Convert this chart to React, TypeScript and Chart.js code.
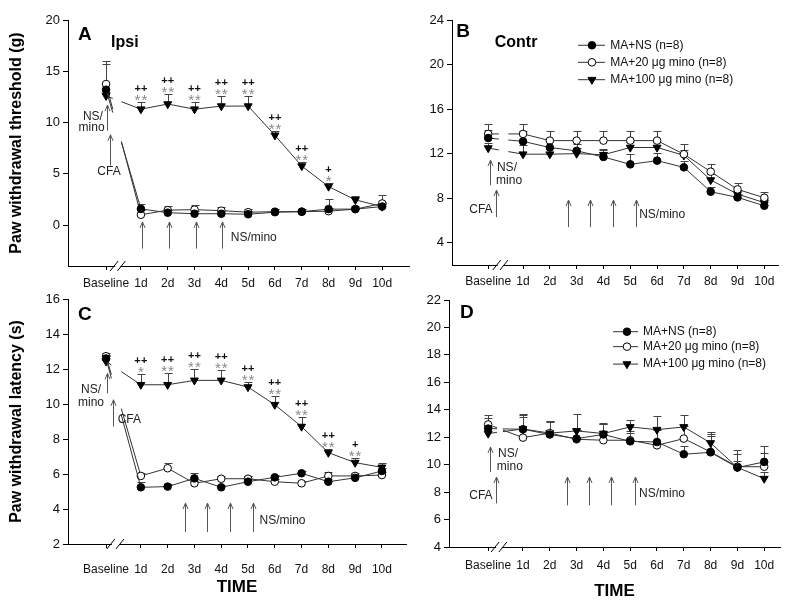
import React, { useEffect, useRef } from 'react';
import { Chart, registerables } from 'chart.js';

Chart.register(...registerables);

const FONT = '"Liberation Sans", Arial, Helvetica, sans-serif';

// ---------- shared categories ----------
const categories = ['Baseline', '1d', '2d', '3d', '4d', '5d', '6d', '7d', '8d', '9d', '10d'];
const xPositions = [-0.3, 1, 2, 3, 4, 5, 6, 7, 8, 9, 10];
const seriesNames = ['MA+NS (n=8)', 'MA+20 \u03bcg mino (n=8)', 'MA+100 \u03bcg mino (n=8)'];

// ---------- Panel A: ipsilateral paw withdrawal threshold (g) ----------
const aNS = [13.2, 1.57, 1.2, 1.1, 1.1, 1.05, 1.25, 1.3, 1.55, 1.55, 1.8];
const aNSErr = [2.5, 0.45, 0.3, 0.3, 0.3, 0.3, 0.3, 0.25, 0.95, 0.3, 0.4];
const aMino20 = [13.75, 1.0, 1.45, 1.5, 1.4, 1.25, 1.3, 1.3, 1.35, 1.55, 2.1];
const aMino20Err = [2.25, 0.5, 0.45, 0.5, 0.4, 0.3, 0.25, 0.25, 0.3, 0.25, 0.8];
const aMino100 = [12.6, 11.3, 11.8, 11.3, 11.6, 11.6, 8.75, 5.75, 3.75, 2.45, 1.8];
const aMino100Err = [0.4, 0.7, 1.0, 0.7, 1.0, 1.0, 0.45, 0.4, 0.3, 0.35, 0.3];
const aPlus = ['', '++', '++', '++', '++', '++', '++', '++', '+', '', ''];
const aStars = ['', '**', '**', '**', '**', '**', '**', '**', '*', '', ''];
const aYTicks = [0, 5, 10, 15, 20];

// ---------- Panel B: contralateral paw withdrawal threshold (g) ----------
const bNS = [13.4, 13.1, 12.55, 12.25, 11.7, 11.04, 11.37, 10.77, 8.58, 8.07, 7.32];
const bNSErr = [0.7, 0.9, 0.7, 0.6, 0.6, 0.9, 0.7, 0.6, 0.45, 0.3, 0.3];
const bMino20 = [13.77, 13.77, 13.17, 13.17, 13.17, 13.17, 13.17, 11.95, 10.38, 8.79, 8.04];
const bMino20Err = [0.85, 0.85, 0.85, 0.85, 0.85, 0.85, 0.85, 0.9, 0.7, 0.55, 0.55];
const bMino100 = [12.5, 11.95, 11.95, 12.0, 11.9, 12.55, 12.55, 11.85, 9.63, 8.37, 7.59];
const bMino100Err = [0.5, 0.8, 0.6, 0.5, 0.5, 0.5, 0.5, 0.5, 0.5, 0.35, 0.3];
const bYTicks = [4, 8, 12, 16, 20, 24];

// ---------- Panel C: ipsilateral paw withdrawal latency (s) ----------
const cNS = [12.6, 5.24, 5.28, 5.75, 5.24, 5.56, 5.81, 6.04, 5.56, 5.78, 6.17];
const cNSErr = [0.2, 0.3, 0.15, 0.3, 0.15, 0.3, 0.15, 0.15, 0.15, 0.15, 0.15];
const cMino20 = [12.73, 5.89, 6.33, 5.47, 5.73, 5.73, 5.56, 5.47, 5.89, 5.89, 5.94];
const cMino20Err = [0.17, 0.15, 0.3, 0.15, 0.17, 0.15, 0.15, 0.15, 0.25, 0.15, 0.15];
const cMino100 = [12.44, 11.1, 11.1, 11.35, 11.35, 10.97, 9.96, 8.71, 7.22, 6.65, 6.38];
const cMino100Err = [0.3, 0.6, 0.67, 0.65, 0.57, 0.27, 0.51, 0.54, 0.2, 0.25, 0.27];
const cPlus = ['', '++', '++', '++', '++', '++', '++', '++', '++', '+', ''];
const cStars = ['', '*', '**', '**', '**', '**', '**', '**', '**', '**', ''];
const cYTicks = [2, 4, 6, 8, 10, 12, 14, 16];

// ---------- Panel D: contralateral paw withdrawal latency (s) ----------
const dNS = [12.63, 12.58, 12.2, 11.9, 12.2, 11.7, 11.65, 10.76, 10.9, 9.79, 10.2];
const dNSErr = [0.8, 1.1, 0.9, 0.6, 0.8, 0.6, 0.9, 0.6, 1.2, 1.0, 1.15];
const dMino20 = [12.93, 11.97, 12.3, 11.85, 11.78, 11.78, 11.41, 11.9, 10.93, 9.85, 9.85];
const dMino20Err = [0.67, 1.5, 0.9, 0.7, 1.2, 0.7, 1.2, 0.9, 1.3, 1.2, 1.0];
const dMino100 = [12.27, 12.6, 12.3, 12.46, 12.27, 12.75, 12.55, 12.75, 11.58, 9.8, 8.98];
const dMino100Err = [0.5, 1.0, 0.9, 1.2, 0.77, 0.54, 1.0, 0.89, 0.82, 0.5, 0.5];
const dYTicks = [4, 6, 8, 10, 12, 14, 16, 18, 20, 22];

type TextItem = { t: string; x: number; y: number; size: number; bold?: boolean; align?: CanvasTextAlign };
type Arrow = { x: number; y0: number; y1: number };
type Panel = {
  series: { values: number[]; err: number[] }[];
  plus?: string[];
  stars?: string[];
  xMin: number; xMax: number; yMin: number; yMax: number; yTicks: number[];
  padding: { left: number; top: number; right: number; bottom: number };
  yAxisWidth: number; xAxisHeight: number; xLabelPad: number;
  yTitle?: string; xTitle?: string; xTitlePad?: number;
  texts: TextItem[];
  arrows: Arrow[];
  breaks: number[];
  gap: [number, number];
  legend?: { x0: number; xm: number; x1: number; xt: number; ys: number[] };
};

const panels: Panel[] = [
  {
    series: [
      { values: aNS, err: aNSErr },
      { values: aMino20, err: aMino20Err },
      { values: aMino100, err: aMino100Err },
    ],
    plus: aPlus, stars: aStars,
    xMin: -1.72, xMax: 11, yMin: -4, yMax: 20, yTicks: aYTicks,
    padding: { left: 0, top: 20, right: 390, bottom: 315 },
    yAxisWidth: 68, xAxisHeight: 24, xLabelPad: 6,
    yTitle: 'Paw withdrawal threshold (g)',
    texts: [
      { t: 'A', x: -1.09, y: 18.6, size: 19, bold: true },
      { t: 'Ipsi', x: 0.4, y: 17.8, size: 16, bold: true },
      { t: 'NS/', x: -0.79, y: 10.6, size: 12 },
      { t: 'mino', x: -0.84, y: 9.5, size: 12 },
      { t: 'CFA', x: -0.19, y: 5.2, size: 12 },
      { t: 'NS/mino', x: 4.35, y: -1.25, size: 12, align: 'left' },
    ],
    arrows: [
      { x: -0.28, y0: 9.2, y1: 11.7 },
      { x: -0.15, y0: 5.8, y1: 8.8 },
      { x: 1.04, y0: -2.3, y1: 0.3 },
      { x: 2.04, y0: -2.3, y1: 0.3 },
      { x: 3.05, y0: -2.3, y1: 0.3 },
      { x: 4.02, y0: -2.3, y1: 0.3 },
    ],
    breaks: [0.0, 0.27],
    gap: [-0.05, 0.27],
  },
  {
    series: [
      { values: bNS, err: bNSErr },
      { values: bMino20, err: bMino20Err },
      { values: bMino100, err: bMino100Err },
    ],
    xMin: -1.65, xMax: 10.51, yMin: 2, yMax: 24, yTicks: bYTicks,
    padding: { left: 400, top: 20, right: 21, bottom: 315 },
    yAxisWidth: 52, xAxisHeight: 25, xLabelPad: 5,
    texts: [
      { t: 'B', x: -1.24, y: 22.96, size: 19, bold: true },
      { t: 'Contr', x: 0.74, y: 21.95, size: 16, bold: true },
      { t: 'NS/', x: 0.4, y: 10.7, size: 12 },
      { t: 'mino', x: 0.48, y: 9.54, size: 12 },
      { t: 'CFA', x: -0.57, y: 6.93, size: 12 },
      { t: 'NS/mino', x: 5.33, y: 6.48, size: 12, align: 'left' },
    ],
    arrows: [
      { x: -0.24, y0: 9.17, y1: 11.42 },
      { x: 0.0, y0: 6.3, y1: 8.73 },
      { x: 2.68, y0: 5.4, y1: 7.83 },
      { x: 3.5, y0: 5.4, y1: 7.83 },
      { x: 4.36, y0: 5.4, y1: 7.83 },
      { x: 5.22, y0: 5.4, y1: 7.83 },
    ],
    breaks: [0.02, 0.29],
    gap: [0.1, 0.45],
    legend: { x0: 3.05, xm: 3.57, x1: 4.06, xt: 4.25, ys: [21.73, 20.2, 18.64] },
  },
  {
    series: [
      { values: cNS, err: cNSErr },
      { values: cMino20, err: cMino20Err },
      { values: cMino100, err: cMino100Err },
    ],
    plus: cPlus, stars: cStars,
    xMin: -1.72, xMax: 10.9, yMin: 2, yMax: 16, yTicks: cYTicks,
    padding: { left: 0, top: 299, right: 393, bottom: 0 },
    yAxisWidth: 68, xAxisHeight: 61, xLabelPad: 14,
    yTitle: 'Paw withdrawal latency (s)',
    xTitle: 'TIME', xTitlePad: 7,
    texts: [
      { t: 'C', x: -1.09, y: 15.1, size: 19, bold: true },
      { t: 'NS/', x: -0.86, y: 10.81, size: 12 },
      { t: 'mino', x: -0.86, y: 10.1, size: 12 },
      { t: 'CFA', x: 0.57, y: 9.13, size: 12 },
      { t: 'NS/mino', x: 5.43, y: 3.36, size: 12, align: 'left' },
    ],
    arrows: [
      { x: -0.25, y0: 10.6, y1: 11.75 },
      { x: -0.04, y0: 8.71, y1: 10.24 },
      { x: 2.64, y0: 2.69, y1: 4.34 },
      { x: 3.46, y0: 2.69, y1: 4.34 },
      { x: 4.31, y0: 2.69, y1: 4.34 },
      { x: 5.17, y0: 2.69, y1: 4.34 },
    ],
    breaks: [-0.12, 0.22],
    gap: [-0.1, 0.27],
  },
  {
    series: [
      { values: dNS, err: dNSErr },
      { values: dMino20, err: dMino20Err },
      { values: dMino100, err: dMino100Err },
    ],
    xMin: -1.76, xMax: 10.59, yMin: 4, yMax: 22, yTicks: dYTicks,
    padding: { left: 400, top: 300, right: 19, bottom: 0 },
    yAxisWidth: 49, xAxisHeight: 58, xLabelPad: 7,
    xTitle: 'TIME', xTitlePad: 3,
    texts: [
      { t: 'D', x: -1.09, y: 21.05, size: 19, bold: true },
      { t: 'NS/', x: 0.44, y: 10.83, size: 12 },
      { t: 'mino', x: 0.51, y: 9.83, size: 12 },
      { t: 'CFA', x: -0.57, y: 7.77, size: 12 },
      { t: 'NS/mino', x: 5.33, y: 7.9, size: 12, align: 'left' },
    ],
    arrows: [
      { x: -0.23, y0: 9.47, y1: 11.29 },
      { x: -0.01, y0: 7.18, y1: 9.1 },
      { x: 2.64, y0: 7.04, y1: 9.1 },
      { x: 3.46, y0: 7.04, y1: 9.1 },
      { x: 4.28, y0: 7.04, y1: 9.1 },
      { x: 5.18, y0: 7.04, y1: 9.1 },
    ],
    breaks: [-0.04, 0.25],
    gap: [0.03, 0.25],
    legend: { x0: 4.36, xm: 4.88, x1: 5.29, xt: 5.48, ys: [19.69, 18.6, 17.33] },
  },
];

const LINE_COLOR = '#333';
const ERR_COLOR = '#444';
const ARROW_COLOR = '#555';

const markerStyles = [
  { pointStyle: 'circle', radius: 3.8, bg: '#000', rot: 0 },
  { pointStyle: 'circle', radius: 3.8, bg: '#fff', rot: 0 },
  { pointStyle: 'triangle', radius: 4.6, bg: '#000', rot: 180 },
];

function drawMarker(ctx: CanvasRenderingContext2D, kind: number, x: number, y: number) {
  const m = markerStyles[kind];
  ctx.save();
  ctx.fillStyle = m.bg;
  ctx.strokeStyle = '#000';
  ctx.lineWidth = 1;
  ctx.beginPath();
  if (m.pointStyle === 'circle') {
    ctx.arc(x, y, m.radius, 0, Math.PI * 2);
  } else {
    const r = m.radius;
    ctx.moveTo(x, y + r);
    ctx.lineTo(x - r * 0.866, y - r * 0.5);
    ctx.lineTo(x + r * 0.866, y - r * 0.5);
    ctx.closePath();
  }
  ctx.fill();
  ctx.stroke();
  ctx.restore();
}

function makePlugin(p: Panel) {
  return {
    id: 'panelExtras',
    beforeDatasetsDraw(chart: any) {
      const { ctx } = chart;
      const xs = chart.scales.x;
      const ys = chart.scales.y;
      ctx.save();
      ctx.strokeStyle = ERR_COLOR;
      ctx.lineWidth = 1;
      p.series.forEach((s) => {
        s.values.forEach((v, i) => {
          const e = s.err[i];
          if (!e) return;
          const x = Math.round(xs.getPixelForValue(xPositions[i])) + 0.5;
          const y0 = ys.getPixelForValue(v);
          const y1 = Math.round(ys.getPixelForValue(v + e)) + 0.5;
          ctx.beginPath();
          ctx.moveTo(x, y0);
          ctx.lineTo(x, y1);
          ctx.moveTo(x - 4, y1);
          ctx.lineTo(x + 4, y1);
          ctx.stroke();
        });
      });
      ctx.restore();
    },
    afterDraw(chart: any) {
      const { ctx, chartArea } = chart;
      const xs = chart.scales.x;
      const ys = chart.scales.y;
      const X = (v: number) => xs.getPixelForValue(v);
      const Y = (v: number) => ys.getPixelForValue(v);
      ctx.save();

      // axis break marks
      const yb = chartArea.bottom;
      const bx0 = X(p.breaks[0]);
      const bx1 = X(p.breaks[1]);
      ctx.fillStyle = '#fff';
      ctx.fillRect(bx0 + 1, yb - 2, bx1 - bx0 - 2, 4);
      ctx.strokeStyle = '#000';
      ctx.lineWidth = 1;
      [bx0, bx1].forEach((bx) => {
        ctx.beginPath();
        ctx.moveTo(bx - 4, yb + 5);
        ctx.lineTo(bx + 4, yb - 5);
        ctx.stroke();
      });

      // arrows
      ctx.strokeStyle = ARROW_COLOR;
      p.arrows.forEach((a) => {
        const x = Math.round(X(a.x)) + 0.5;
        const y0 = Y(a.y0);
        const y1 = Y(a.y1);
        ctx.beginPath();
        ctx.moveTo(x, y0);
        ctx.lineTo(x, y1);
        ctx.moveTo(x - 2.5, y1 + 6);
        ctx.lineTo(x, y1);
        ctx.lineTo(x + 2.5, y1 + 6);
        ctx.stroke();
      });

      // texts
      ctx.textBaseline = 'middle';
      p.texts.forEach((t) => {
        ctx.font = `${t.bold ? 'bold ' : ''}${t.size}px ${FONT}`;
        ctx.fillStyle = t.bold ? '#000' : '#222';
        ctx.textAlign = t.align || 'center';
        ctx.fillText(t.t, X(t.x), Y(t.y));
      });

      // significance marks above the 100 ug series
      if (p.plus && p.stars) {
        const tri = p.series[2];
        ctx.textAlign = 'center';
        ctx.textBaseline = 'alphabetic';
        p.plus.forEach((pl, i) => {
          const st = p.stars![i];
          if (!pl && !st) return;
          const x = X(xPositions[i]);
          const top = Y(tri.values[i] + tri.err[i]);
          ctx.font = `15px ${FONT}`;
          ctx.fillStyle = '#888';
          const sOff = st.length === 2 ? [-3.4, 3.4] : [0];
          sOff.forEach((o) => ctx.fillText('*', x + o, top + 3));
          ctx.font = `bold 11px ${FONT}`;
          ctx.fillStyle = '#111';
          const pOff = pl.length === 2 ? [-3.3, 3.3] : [0];
          pOff.forEach((o) => ctx.fillText('+', x + o, top - 10));
        });
      }

      // legend
      if (p.legend) {
        const L = p.legend;
        L.ys.forEach((ly, k) => {
          const y = Y(ly);
          ctx.strokeStyle = LINE_COLOR;
          ctx.lineWidth = 1;
          ctx.beginPath();
          ctx.moveTo(X(L.x0), y);
          ctx.lineTo(X(L.x1), y);
          ctx.stroke();
          drawMarker(ctx, k, X(L.xm), y);
          ctx.font = `12px ${FONT}`;
          ctx.fillStyle = '#111';
          ctx.textAlign = 'left';
          ctx.textBaseline = 'middle';
          ctx.fillText(seriesNames[k], X(L.xt), y);
        });
      }
      ctx.restore();
    },
  };
}

function gapDash(g0: number, g1: number) {
  const span = xPositions[1] - xPositions[0];
  const f0 = (g0 - xPositions[0]) / span;
  const f1 = (g1 - xPositions[0]) / span;
  return (ctx: any) => {
    if (ctx.p0DataIndex !== 0) return [];
    const L = Math.hypot(ctx.p1.x - ctx.p0.x, ctx.p1.y - ctx.p0.y);
    return [Math.max(0.01, f0 * L), (f1 - f0) * L, (1 - f1) * L + 2, 100000];
  };
}

function buildConfig(p: Panel): any {
  const datasets = p.series.map((s, k) => {
    const m = markerStyles[k];
    return {
      label: seriesNames[k],
      data: xPositions.map((x, i) => ({ x, y: s.values[i] })),
      borderColor: LINE_COLOR,
      borderWidth: 1,
      pointStyle: m.pointStyle,
      pointRadius: m.radius,
      pointRotation: m.rot,
      pointBackgroundColor: m.bg,
      pointBorderColor: '#000',
      pointBorderWidth: 1,
      tension: 0,
      fill: false,
      segment: { borderDash: gapDash(p.gap[0], p.gap[1]) },
    };
  });
  return {
    type: 'line',
    data: { datasets },
    plugins: [makePlugin(p)],
    options: {
      animation: false,
      responsive: false,
      maintainAspectRatio: false,
      devicePixelRatio: 1,
      events: [],
      layout: { padding: p.padding },
      plugins: { legend: { display: false }, tooltip: { enabled: false } },
      scales: {
        x: {
          type: 'linear',
          min: p.xMin,
          max: p.xMax,
          afterBuildTicks: (s: any) => {
            s.ticks = xPositions.map((v) => ({ value: v }));
          },
          afterFit: (s: any) => {
            s.height = p.xAxisHeight;
          },
          ticks: {
            autoSkip: false,
            maxRotation: 0,
            padding: p.xLabelPad,
            color: '#111',
            font: { family: FONT, size: 12 },
            callback: (v: any) => {
              const i = xPositions.indexOf(Number(v));
              return i >= 0 ? categories[i] : '';
            },
          },
          grid: { drawOnChartArea: false, drawTicks: true, tickLength: 4, color: '#000' },
          border: { color: '#000', width: 1 },
          title: p.xTitle
            ? {
                display: true,
                text: p.xTitle,
                color: '#000',
                font: { family: FONT, size: 17, weight: 'bold' },
                padding: { top: 0, bottom: p.xTitlePad || 0 },
              }
            : { display: false },
        },
        y: {
          type: 'linear',
          min: p.yMin,
          max: p.yMax,
          afterBuildTicks: (s: any) => {
            s.ticks = p.yTicks.map((v) => ({ value: v }));
          },
          afterFit: (s: any) => {
            s.width = p.yAxisWidth;
          },
          ticks: { padding: 3, color: '#111', font: { family: FONT, size: 13 } },
          grid: { drawOnChartArea: false, drawTicks: true, tickLength: 5, color: '#000' },
          border: { color: '#000', width: 1 },
          title: p.yTitle
            ? {
                display: true,
                text: p.yTitle,
                color: '#000',
                font: { family: FONT, size: 16, weight: 'bold' },
                padding: { top: 7, bottom: 0 },
              }
            : { display: false },
        },
      },
    },
  };
}

export default function App() {
  const refs = useRef<(HTMLCanvasElement | null)[]>([]);
  useEffect(() => {
    document.body.style.margin = '0';
    document.body.style.background = '#fff';
    const charts = panels.map((p, i) => new Chart(refs.current[i] as HTMLCanvasElement, buildConfig(p)));
    return () => charts.forEach((c) => c.destroy());
  }, []);
  return (
    <div style={{ position: 'relative', width: 799, height: 605, background: '#fff', overflow: 'hidden' }}>
      {panels.map((_, i) => (
        <canvas
          key={i}
          ref={(el) => {
            refs.current[i] = el;
          }}
          width={799}
          height={605}
          style={{ position: 'absolute', left: 0, top: 0, width: 799, height: 605 }}
        />
      ))}
    </div>
  );
}
